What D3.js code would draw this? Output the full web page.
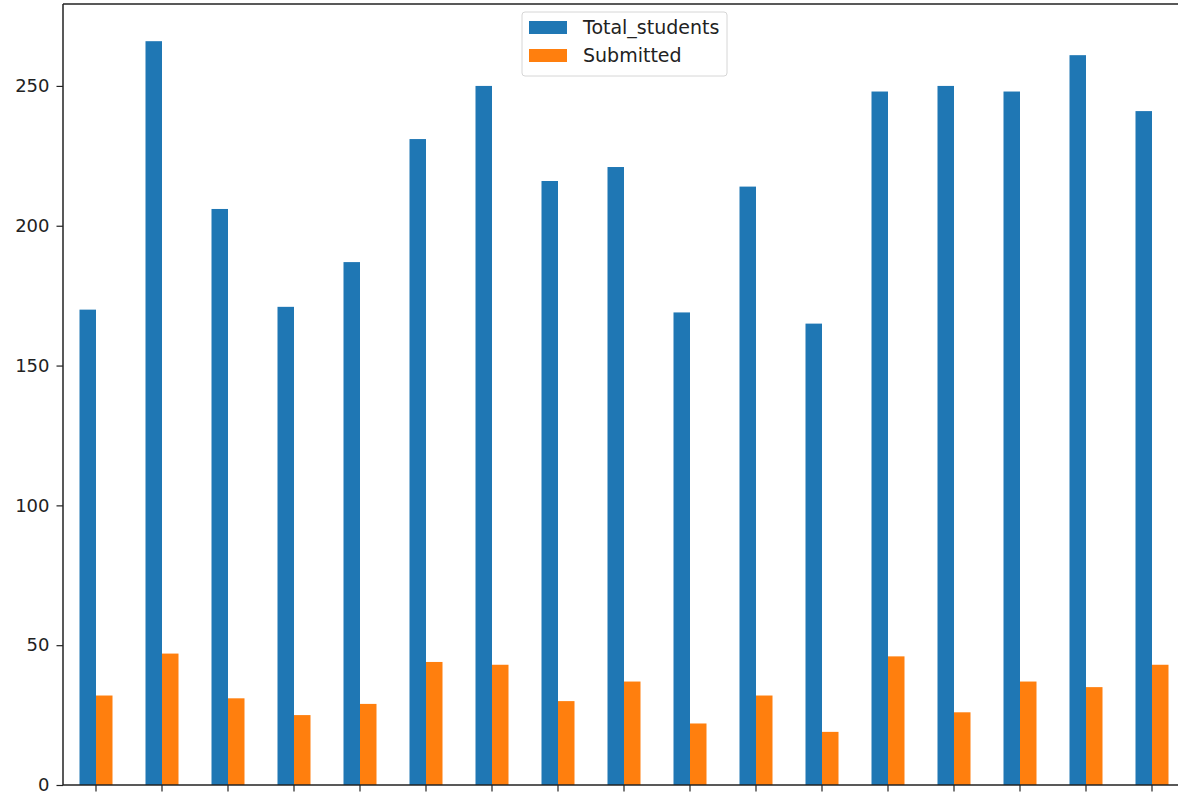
<!DOCTYPE html>
<html>
<head>
<meta charset="utf-8">
<script src="https://cdn.jsdelivr.net/npm/d3@7"></script>
<style>
html,body{margin:0;padding:0;background:#fff;}
svg{display:block;font-family:"DejaVu Sans",sans-serif;}
</style>
</head>
<body>
<svg id="chart" width="1178" height="792"></svg>
<script>
const categories = ["0","1","2","3","4","5","6","7","8","9","10","11","12","13","14","15","16"];
const seriesNames = ["Total_students","Submitted"];
const totalStudents = [170,266,206,171,187,231,250,216,221,169,214,165,248,250,248,261,241];
const submitted = [32,47,31,25,29,44,43,30,37,22,32,19,46,26,37,35,43];
const yTicks = [0,50,100,150,200,250];
const colors = ["#1f77b4","#ff7f0e"];

(function () {
const svg = d3.select("#chart");
const plotLeft = 63, plotRight = 1185, plotTop = 4, plotBottom = 785;

const x0 = d3.scaleBand().domain(categories).range([plotLeft, plotRight]).paddingInner(0.5).paddingOuter(0.25);
const x1 = d3.scaleBand().domain(seriesNames).range([0, x0.bandwidth()]);
const yMax = d3.max(totalStudents) * 1.05;
const y = d3.scaleLinear().domain([0, yMax]).range([plotBottom, plotTop]);

const seriesValues = [totalStudents, submitted];

seriesNames.forEach((s, si) => {
  svg.append("g").selectAll("rect")
    .data(categories.map((c, i) => ({c, v: seriesValues[si][i]})))
    .join("rect")
    .attr("x", d => x0(d.c) + x1(s))
    .attr("width", x1.bandwidth())
    .attr("y", d => y(d.v))
    .attr("height", d => plotBottom - y(d.v))
    .attr("fill", colors[si]);
});

const yAxis = svg.append("g").attr("transform", `translate(${plotLeft},0)`)
  .call(d3.axisLeft(y).tickValues(yTicks).tickSize(6.5).tickPadding(7).tickFormat(d3.format("d")));
yAxis.select(".domain").remove();
yAxis.selectAll("line").attr("stroke", "#222").attr("stroke-width", 1.2);
yAxis.selectAll("text").attr("font-size", 18).attr("fill", "#222").attr("font-family", "DejaVu Sans");

const xAxis = svg.append("g").attr("transform", `translate(0,${plotBottom})`)
  .call(d3.axisBottom(x0).tickSize(6.5).tickPadding(7).tickFormat(""));
xAxis.select(".domain").remove();
xAxis.selectAll("line").attr("stroke", "#222").attr("stroke-width", 1.2);

const sp = svg.append("g").attr("fill", "none").attr("stroke", "#222").attr("stroke-width", 1.5);
sp.append("line").attr("x1", plotLeft).attr("x2", plotLeft).attr("y1", plotTop).attr("y2", plotBottom);
sp.append("line").attr("x1", plotLeft).attr("x2", plotRight).attr("y1", plotBottom).attr("y2", plotBottom);
sp.append("line").attr("x1", plotLeft).attr("x2", plotRight).attr("y1", plotTop).attr("y2", plotTop);
sp.append("line").attr("x1", plotRight).attr("x2", plotRight).attr("y1", plotTop).attr("y2", plotBottom);

const lg = svg.append("g");
lg.append("rect").attr("x", 522).attr("y", 12).attr("width", 205).attr("height", 64)
  .attr("rx", 3).attr("fill", "#fff").attr("fill-opacity", 0.8).attr("stroke", "#d6d6d6").attr("stroke-width", 1);
seriesNames.forEach((s, i) => {
  const yy = 21 + i * 28;
  lg.append("rect").attr("x", 529).attr("y", yy).attr("width", 38).attr("height", 13).attr("fill", colors[i]);
  lg.append("text").attr("x", 583).attr("y", yy + 6.5).attr("dy", "0.35em")
    .attr("font-size", 19).attr("fill", "#222").text(s);
});
})();
</script>
</body>
</html>
